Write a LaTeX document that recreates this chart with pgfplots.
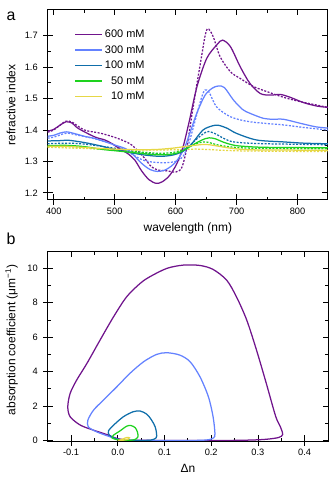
\documentclass[border=0pt]{standalone}
\usepackage{fontspec}
\setmainfont{Liberation Sans}
\usepackage{pgfplots}
\pgfplotsset{compat=1.18}
\definecolor{cA}{RGB}{112,20,140}
\definecolor{cB}{RGB}{100,130,255}
\definecolor{cC}{RGB}{15,110,170}
\definecolor{cD}{RGB}{30,210,30}
\definecolor{cE}{RGB}{230,215,70}
\pgfplotsset{
  common/.style={width=280.3bp, scale only axis,
    /pgf/number format/assume math mode=true,
    tick label style={font=\fontsize{9.3}{10}\selectfont},
    label style={font=\fontsize{12}{14}\selectfont},
    tick align=inside, major tick length=5.5bp, minor tick length=3bp,
    tick style={black, line width=0.8bp}, axis line style={line width=1bp},
    xticklabel style={yshift=-4.5bp}, yticklabel style={xshift=-6.5bp},
    minor x tick num=1, minor y tick num=1},
  outer/.style={width=280.3bp, scale only axis,
    axis x line*=bottom, axis y line*=left, axis line style={draw=none,-},
    tick align=outside, major tick length=4.7bp, minor tick num=0,
    xticklabels={}, yticklabels={}, tick style={black, line width=0.8bp}},
  sol/.style={line width=1.25bp, smooth, tension=0.5},
  dot/.style={line width=1.25bp, smooth, tension=0.5, dash pattern=on 2bp off 1.5bp, forget plot},
}
\begin{document}
\begin{tikzpicture}
\useasboundingbox (0,0) rectangle (332bp,480bp);
% ---------------- panel a ----------------
\begin{axis}[common, at={(47.7bp,280bp)}, anchor=south west, height=190bp,
  xmin=390, xmax=850, ymin=1.177, ymax=1.782,
  xtick={400,500,600,700,800}, ytick={1.2,1.3,1.4,1.5,1.6,1.7},
  yticklabel style={/pgf/number format/.cd, fixed, fixed zerofill, precision=1},
  xlabel={wavelength (nm)}, ylabel={refractive index},
  xlabel style={at={(axis description cs:0.5,-0.168)}, anchor=base},
  ylabel style={at={(axis description cs:-0.1156,0.5)}, anchor=base},
  legend cell align=right,
  legend image code/.code={\draw[#1, solid] (0bp,0bp) -- (26.7bp,0bp);},
  legend style={draw=none, fill=none, inner sep=0pt, at={(axis description cs:0.095,0.898)}, anchor=north west,
    font=\fontsize{11}{13}\selectfont, nodes={inner sep=0.5bp}, row sep=5.3bp, column sep=2bp},
]
% dotted
\addplot[cA, dot] coordinates {(390,1.393) (400,1.400) (410,1.415) (420,1.428) (430,1.425) (450,1.400) (478,1.389) (505,1.373) (528,1.352) (549,1.310) (560,1.283) (572,1.272) (585,1.270) (600,1.266) (610,1.28) (618,1.34) (626,1.44) (635,1.548) (643,1.64) (648,1.697) (652,1.722) (657,1.715) (663,1.69) (673,1.633) (690,1.585) (706,1.564) (728,1.538) (750,1.522) (777,1.504) (805,1.49) (850,1.472)};
\addplot[cB, dot] coordinates {(390,1.374) (400,1.377) (410,1.384) (422,1.39) (440,1.383) (467,1.372) (500,1.352) (522,1.33) (545,1.305) (565,1.297) (585,1.296) (600,1.30) (612,1.315) (622,1.36) (632,1.43) (642,1.50) (648,1.527) (655,1.52) (667,1.474) (690,1.442) (722,1.426) (777,1.416) (810,1.408) (850,1.40)};
\addplot[cC, dot] coordinates {(390,1.356) (420,1.358) (450,1.355) (500,1.342) (550,1.326) (585,1.322) (605,1.326) (620,1.345) (635,1.372) (647,1.39) (654,1.395) (665,1.388) (680,1.372) (695,1.362) (730,1.357) (780,1.355) (850,1.353)};
\addplot[cD, dot] coordinates {(390,1.347) (430,1.347) (470,1.34) (500,1.336) (540,1.33) (570,1.326) (595,1.328) (615,1.34) (632,1.355) (645,1.362) (655,1.36) (670,1.352) (700,1.344) (750,1.341) (850,1.34)};
\addplot[cE, dot] coordinates {(390,1.345) (450,1.341) (500,1.338) (550,1.336) (600,1.337) (630,1.339) (650,1.338) (680,1.335) (720,1.333) (850,1.331)};
% solid
\addplot[cA, sol] coordinates {(390,1.396) (400,1.402) (410,1.415) (420,1.426) (430,1.422) (440,1.405) (467,1.378) (484,1.368) (495,1.357) (510,1.338) (522,1.324) (533,1.304) (544,1.27) (556,1.242) (568,1.230) (578,1.235) (590,1.255) (602,1.293) (612,1.345) (622,1.425) (635,1.538) (651,1.628) (668,1.672) (677,1.686) (690,1.665) (706,1.601) (722,1.548) (739,1.516) (755,1.511) (772,1.513) (788,1.504) (810,1.487) (832,1.476) (850,1.472)};
\addlegendentry{600 mM}
\addplot[cB, sol] coordinates {(390,1.380) (400,1.383) (410,1.390) (421,1.394) (435,1.388) (450,1.380) (467,1.373) (485,1.362) (500,1.352) (522,1.336) (544,1.294) (558,1.274) (570,1.268) (582,1.272) (593,1.285) (603,1.305) (615,1.345) (625,1.40) (635,1.455) (648,1.51) (660,1.533) (670,1.54) (680,1.535) (695,1.495) (710,1.465) (722,1.453) (744,1.437) (760,1.434) (777,1.434) (805,1.421) (830,1.410) (850,1.406)};
\addlegendentry{300 mM}
\addplot[cC, sol] coordinates {(390,1.365) (410,1.366) (425,1.367) (450,1.36) (475,1.350) (500,1.338) (525,1.328) (550,1.32) (575,1.316) (595,1.32) (610,1.33) (620,1.343) (629,1.362) (645,1.40) (660,1.413) (670,1.415) (685,1.405) (700,1.389) (733,1.368) (777,1.362) (810,1.358) (850,1.356)};
\addlegendentry{100 mM}
\addplot[cD, sol] coordinates {(390,1.350) (420,1.351) (450,1.347) (480,1.338) (500,1.334) (530,1.328) (560,1.322) (585,1.321) (605,1.328) (620,1.343) (635,1.36) (648,1.372) (655,1.375) (665,1.372) (680,1.36) (700,1.35) (740,1.345) (800,1.344) (850,1.343)};
\addlegendentry{50 mM}
\addplot[cE, sol] coordinates {(390,1.348) (420,1.348) (460,1.343) (500,1.339) (540,1.337) (570,1.338) (595,1.342) (615,1.347) (635,1.352) (650,1.354) (665,1.35) (690,1.342) (720,1.337) (780,1.336) (850,1.335)};
\addlegendentry{10 mM}
\end{axis}
\begin{axis}[outer, at={(47.7bp,280bp)}, anchor=south west, height=190bp,
  xmin=390, xmax=850, ymin=1.177, ymax=1.782,
  xtick={400,500,600,700,800}, ytick={1.2,1.3,1.4,1.5,1.6,1.7}]
\end{axis}
% ---------------- panel b ----------------
\begin{axis}[common, at={(47.7bp,39bp)}, anchor=south west, height=189.3bp,
  xmin=-0.15, xmax=0.45, ymin=-0.03, ymax=10.97,
  xtick={-0.1,0,0.1,0.2,0.3,0.4}, ytick={0,2,4,6,8,10},
  xticklabel style={/pgf/number format/.cd, fixed, fixed zerofill, precision=1},
  xlabel={Δn}, ylabel={absorption coefficient (μm\textsuperscript{−1})},
  xlabel style={at={(axis description cs:0.5,-0.169)}, anchor=base},
  ylabel style={at={(axis description cs:-0.1156,0.534)}, anchor=base},
]
\addplot[cA, sol] coordinates {(0.02,0.02) (0.10,0.0) (0.20,0.0) (0.26,0.01) (0.30,0.04) (0.325,0.09) (0.345,0.18) (0.353,0.35) (0.348,0.8) (0.338,1.4) (0.318,3.31) (0.297,5.25) (0.276,7.0) (0.254,8.35) (0.233,9.32) (0.204,9.94) (0.176,10.17) (0.14,10.19) (0.105,10.0) (0.069,9.52) (0.048,9.13) (0.019,8.35) (-0.009,7.19) (-0.038,5.83) (-0.066,4.48) (-0.088,3.51) (-0.102,2.73) (-0.107,1.96) (-0.102,1.38) (-0.08,0.89) (-0.052,0.6) (-0.024,0.35) (-0.002,0.12) (0.02,0.02)};
\addplot[cB, sol] coordinates {(0.005,0.03) (0.05,0.0) (0.15,0.0) (0.19,0.03) (0.205,0.15) (0.208,0.4) (0.204,1.38) (0.194,2.54) (0.176,3.7) (0.155,4.57) (0.133,4.96) (0.105,5.1) (0.083,5.0) (0.055,4.57) (0.026,3.9) (-0.002,3.12) (-0.031,2.34) (-0.052,1.76) (-0.064,1.18) (-0.063,0.79) (-0.045,0.5) (-0.016,0.21) (0.005,0.03)};
\addplot[cC, sol] coordinates {(0.005,0.02) (0.04,0.0) (0.07,0.02) (0.082,0.15) (0.083,0.4) (0.08,0.8) (0.072,1.2) (0.062,1.53) (0.048,1.71) (0.033,1.67) (0.012,1.38) (-0.009,0.89) (-0.02,0.56) (-0.018,0.31) (-0.006,0.12) (0.005,0.02)};
\addplot[cD, sol] coordinates {(0.0,0.04) (0.02,0.01) (0.035,0.04) (0.043,0.2) (0.042,0.5) (0.037,0.75) (0.028,0.87) (0.019,0.83) (0.005,0.56) (-0.009,0.31) (-0.012,0.15) (-0.004,0.06) (0.0,0.04)};
\addplot[cE, sol] coordinates {(0.0,0.0) (0.012,0.02) (0.022,0.07) (0.025,0.15) (0.02,0.18) (0.012,0.1) (0.005,0.03) (0.0,0.0)};
\end{axis}
\begin{axis}[outer, at={(47.7bp,39bp)}, anchor=south west, height=189.3bp,
  xmin=-0.15, xmax=0.45, ymin=-0.03, ymax=10.97,
  xtick={-0.1,0,0.1,0.2,0.3,0.4}, ytick={0,2,4,6,8,10}]
\end{axis}
\node[font=\fontsize{16}{18}\selectfont, anchor=base west, inner sep=0pt] at (6.5bp,459bp) {a};
\node[font=\fontsize{16}{18}\selectfont, anchor=base west, inner sep=0pt] at (6.5bp,235bp) {b};
\end{tikzpicture}
\end{document}
